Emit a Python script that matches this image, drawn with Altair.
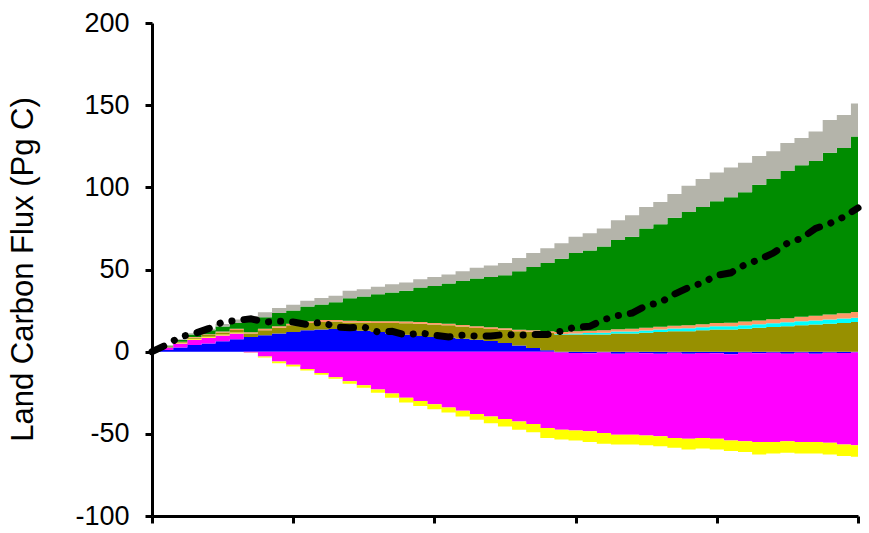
import altair as alt
import pandas as pd

years = list(range(0, 101, 2))

series_names = ["Blue", "Magenta", "Yellow", "Olive", "Cyan", "Orange", "Green", "Gray"]
series_colors = ["#0000ff", "#ff00ff", "#ffff00", "#979000", "#00ffff", "#ff9966", "#008c00", "#b4b4aa"]

blue = [0, 1, 2.5, 4, 5, 6.3, 7.5, 9, 10, 11, 12, 13, 13.5, 13.8, 13.3, 12.7, 12, 11, 10.3, 9.5,
        9, 8.5, 7.8, 7.2, 6.5, 5.3, 3.8, 2.3, 0.8, -0.5, -0.8, -1, -0.5, -1.2, -0.6, -1, -1.3, -0.7,
        -1.2, -0.8, -1, -1.5, -0.6, -1, -0.7, -1.2, -0.6, -1.3, -0.7, -0.8, -0.5]
magenta = [0, 1.5, 2.5, 3.3, 3.5, 3.5, 3.5, -0.5, -3, -6, -8, -10.5, -13, -15.5, -18, -20.5, -23,
           -25.5, -28, -30, -32, -34, -36, -38, -39.5, -41, -42.5, -44, -46.5, -47, -47.2, -47.5,
           -49, -49.3, -49.9, -50, -50.2, -51.8, -51.8, -51.7, -52, -52.5, -53.9, -54, -54.3,
           -53.3, -54.4, -53.7, -54.8, -55.7, -56.5]
yellow = [0, 0.1, 0.3, 0.5, 0.6, 0.7, 0.7, -0.1, -0.5, -1, -1, -1, -1, -1, -1.5, -1.5, -2, -2.5,
          -3, -3, -3, -3, -3.5, -3.5, -4, -4.5, -5, -5, -6, -6, -6, -6.5, -6.5, -6, -6, -6, -6, -6,
          -6.5, -6.5, -6.5, -6.5, -6.5, -7.5, -7, -7, -7, -7, -7, -7, -7]
olive = [0, 0.3, 0.5, 0.7, 1.0, 1.2, 1.5, 2, 3, 3.5, 4, 4.5, 4.5, 4.5, 4.5, 5, 5.5, 6.5, 7, 7.5,
         7.5, 7.5, 7.5, 7.2, 7.3, 8, 8.6, 9.8, 10.6, 10.5, 10.5, 10.5, 10.5, 11, 11, 11.5, 12,
         12.5, 12.5, 13, 13.5, 13.5, 14, 14.5, 15, 15.5, 16, 16.5, 17, 17.5, 18]
cyan = [0] * 29 + [0.3, 0.6, 0.8, 1.0, 1.2, 1.3, 1.4, 1.5, 1.6, 1.7, 1.8, 1.9, 2.0, 2.1, 2.2,
                   2.3, 2.4, 2.5, 2.5, 2.6, 2.7, 2.7]
orange = [0, 0.2, 0.3, 0.4, 0.5, 0.6, 0.7, 0.8, 1, 1, 1, 1, 1.2, 1, 1, 1, 1, 1, 1.1, 1, 1, 1, 1,
          1, 1, 1, 1, 1, 1.1, 1.2, 1.3, 1.4, 1.5, 1.5, 1.6, 1.6, 1.7, 1.7, 1.8, 1.9, 2, 2.1, 2.2,
          2.3, 2.4, 2.5, 2.7, 2.9, 3.0, 3.2, 3.4]
green = [0, 0.5, 1.0, 1.5, 2.4, 3.0, 3.6, 7.2, 7, 8, 8, 9, 9.5, 10.7, 13.7, 14.8, 16.5, 17.5,
         18.7, 21, 22.5, 24.5, 26.7, 29.1, 30.7, 32.2, 35.6, 38.4, 41.5, 44.5, 47.6, 48.8, 51,
         54.3, 56.1, 60.5, 62.3, 65.7, 69, 71.3, 74.1, 76.4, 78.7, 82.5, 85.3, 89.6, 92.3, 94.1,
         98.4, 100.6, 106.9]
gray = [0, 0.3, 0.5, 0.8, 1, 1.5, 2, 2.5, 3, 3, 3.5, 3.5, 4, 4, 4.5, 4.5, 4.5, 5, 5, 5, 5.5, 5.5,
        6, 6.5, 7, 7.5, 8, 8.5, 9, 9.5, 10, 10.5, 11, 12, 13, 13, 13.5, 14.5, 16, 17, 17.5, 18,
        18, 17.5, 17, 17, 16.5, 18, 20, 20, 20]
net = [0, 4, 9, 11, 14, 18, 19, 20, 18, 18.5, 18, 16.5, 18, 15, 14.5, 15, 12, 12.4, 10, 11.5, 10,
       9, 10, 9.5, 9.5, 10.5, 10, 10.5, 10.5, 12.5, 15, 15.4, 19.5, 22, 23.5, 28, 30, 35, 39, 42,
       46.5, 48, 53, 56, 60, 66, 69, 75, 78, 82, 87.5]

all_series = [blue, magenta, yellow, olive, cyan, orange, green, gray]
rows = []
for k, (name, vals) in enumerate(zip(series_names, all_series)):
    for yr, v in zip(years, vals):
        rows.append({"year": yr, "value": v, "series": name, "k": k})
df = pd.DataFrame(rows)
df_net = pd.DataFrame({"year": years, "net": net})

x_scale = alt.Scale(domain=[0, 100], nice=False, zero=False)
y_scale = alt.Scale(domain=[-100, 200], nice=False)

x_axis = alt.Axis(values=[0, 20, 40, 60, 80, 100], labels=False, title=None, grid=False,
                  domainColor="black", domainWidth=3, tickColor="black", tickWidth=3, tickSize=7)
y_axis = alt.Axis(values=[-100, -50, 0, 50, 100, 150, 200], title="Land Carbon Flux (Pg C)",
                  grid=False, domainColor="black", domainWidth=3, tickColor="black", tickWidth=3,
                  tickSize=7, labelFont="Liberation Sans", labelFontSize=27, labelColor="black",
                  labelPadding=16, labelFlush=False, labelExpr="'' + datum.value",
                  titleFont="Liberation Sans", titleFontSize=31,
                  titleFontWeight="normal", titleColor="black", titleX=-113, titleY=246,
                  titleAngle=270, titleAlign="center", titleBaseline="bottom")

areas = alt.Chart(df).mark_area(interpolate="step").encode(
    x=alt.X("year:Q", scale=x_scale, axis=x_axis),
    y=alt.Y("value:Q", stack="zero", scale=y_scale, axis=y_axis),
    color=alt.Color("series:N", scale=alt.Scale(domain=series_names, range=series_colors), legend=None),
    order=alt.Order("k:Q", sort="ascending"),
)

line = alt.Chart(df_net).mark_line(
    color="black", strokeWidth=7, strokeDash=[13, 12, 0.1, 12, 0.1, 12], strokeCap="round"
).encode(
    x=alt.X("year:Q", scale=x_scale),
    y=alt.Y("net:Q", scale=y_scale),
)

chart = alt.layer(areas, line).properties(
    width=706, height=493,
    autosize=alt.AutoSizeParams(type="none"),
    padding={"left": 152, "top": 23, "right": 11, "bottom": 17},
).configure_view(strokeWidth=0)

chart.save("out.html", embed_options={"renderer": "svg", "actions": False})
